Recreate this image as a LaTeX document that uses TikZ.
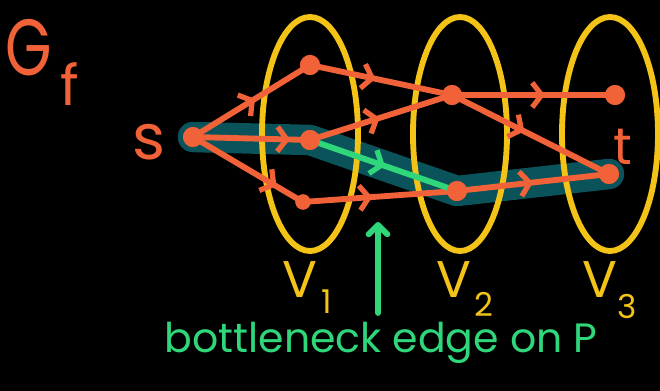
\documentclass[tikz,border=0pt]{standalone}
\usepackage{fontspec}
\setmainfont{Poppins}
\usetikzlibrary{arrows.meta,decorations.markings}
\definecolor{org}{HTML}{F26238}
\definecolor{yel}{HTML}{F3C318}
\definecolor{grn}{HTML}{2FD67A}
\definecolor{tl}{HTML}{0A535A}
\tikzset{
  x=0.03cm,y=-0.03cm,
  vtx/.style={circle,fill=org,inner sep=0pt,minimum size=17pt},
  smallvtx/.style={circle,fill=org,inner sep=0pt,minimum size=13pt},
  edge/.style={draw=org,line width=5pt,line cap=round},
  gedge/.style={draw=grn,line width=5pt,line cap=round},
  midarr/.style={postaction={decorate},decoration={markings,
     mark=at position #1 with {\arrow[line width=4.5pt,line cap=round,line join=round]{Straight Barb[length=8pt,width=21pt]}}}},
  part/.style={draw=yel,line width=5pt},
  lbl/.style={text=org,inner sep=0pt},
  ylbl/.style={text=yel,inner sep=0pt},
}
\begin{document}
\begin{tikzpicture}
\fill[black] (0,0) rectangle (660,391);
\useasboundingbox (0,0) rectangle (660,391);
% vertices (positions)
\coordinate (ps) at (193,137);
\coordinate (pa) at (310,65);
\coordinate (pb) at (310,140);
\coordinate (pc) at (303,202);
\coordinate (pd) at (452,95);
\coordinate (pe) at (457,191);
\coordinate (pf) at (615,95);
\coordinate (pt) at (609,174);
% highlighted path P
\draw[tl,line width=26pt,line cap=round,line join=round] (ps) -- (pb) -- (pe) -- (pt);
% partitions
\draw[part] (310,134) ellipse [x radius=48,y radius=117];
\draw[part] (460,134) ellipse [x radius=47,y radius=117];
\draw[part] (610,134) ellipse [x radius=48,y radius=117];
% nodes
\node[vtx] (s) at (ps) {};
\node[vtx] (a) at (pa) {};
\node[vtx] (b) at (pb) {};
\node[smallvtx] (c) at (pc) {};
\node[vtx] (d) at (pd) {};
\node[vtx] (e) at (pe) {};
\node[vtx] (f) at (pf) {};
\node[vtx] (t) at (pt) {};
% edges
\path[edge,midarr=0.53] (s.center) -- (a.center);
\path[edge,midarr=0.83] (s.center) -- (b.center);
\path[edge,midarr=0.76] (s.center) -- (c.center);
\path[edge,midarr=0.46] (a.center) -- (d.center);
\path[edge,midarr=0.49] (b.center) -- (d.center);
\path[edge,midarr=0.45] (c.center) -- (e.center);
\path[edge,midarr=0.57] (d.center) -- (f.center);
\path[edge,midarr=0.46] (d.center) -- (t.center);
\path[edge,midarr=0.5] (e.center) -- (t.center);
\path[gedge,midarr=0.51] (b.center) -- (e.center);
% redraw vertices on top
\foreach \n in {s,a,b,d,e,f,t}{\fill[org] (\n) circle (8.5pt);}
\fill[org] (c) circle (6.5pt);
% labels
\node[lbl,font=\fontsize{68}{70}\selectfont] (G) at (29,48) {\scalebox{0.75}[1]{G}};
\node[lbl,font=\fontsize{48}{50}\selectfont] (Gf) at (70,84) {f};
\node[lbl,font=\fontsize{54}{56}\selectfont] (sl) at (149,142) {s};
\node[lbl,font=\fontsize{44}{46}\selectfont] (tl) at (623,147) {t};
\node[ylbl,font=\fontsize{44}{46}\selectfont] (V1) at (300,280) {V};
\node[ylbl,font=\fontsize{28}{30}\selectfont] (s1) at (327,302) {1};
\node[ylbl,font=\fontsize{44}{46}\selectfont] (V2) at (454,280) {V};
\node[ylbl,font=\fontsize{28}{30}\selectfont] (s2) at (484,304) {2};
\node[ylbl,font=\fontsize{44}{46}\selectfont] (V3) at (600,280) {V};
\node[ylbl,font=\fontsize{28}{30}\selectfont] (s3) at (627,306) {3};
\node[text=grn,inner sep=0pt,font=\fontsize{35}{38}\selectfont] (bn) at (381,343) {bottleneck edge on P};
\coordinate (arrtip) at (378,222);
\coordinate (arrbase) at (378,313);
\draw[grn,line width=5pt,line cap=round,-{Straight Barb[length=8pt,width=16pt,line cap=round,line join=round]}] (arrbase) -- (arrtip);
\end{tikzpicture}
\end{document}
